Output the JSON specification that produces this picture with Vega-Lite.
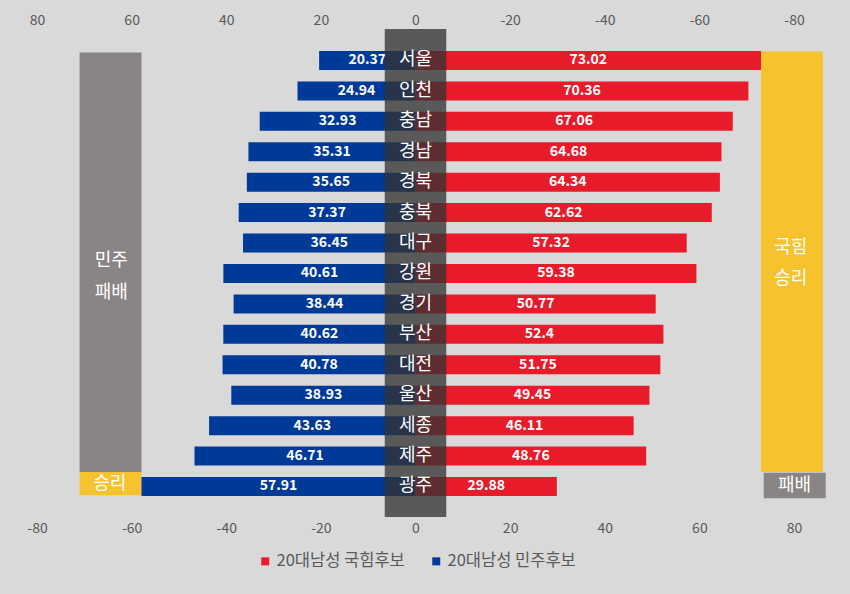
{
  "$schema": "https://vega.github.io/schema/vega-lite/v6.json",
  "width": 757,
  "height": 488,
  "autosize": {"type": "none"},
  "padding": {"left": 37, "top": 29, "right": 56, "bottom": 77},
  "background": "#d9d9d9",
  "config": {
    "view": {"stroke": null},
    "font": "Noto Sans CJK KR",
    "axis": {
      "domain": false,
      "ticks": false,
      "grid": false,
      "labelFlush": false,
      "labelFontSize": 14,
      "labelColor": "#595959",
      "labelFont": "Noto Sans CJK KR",
      "labelExpr": "datum.value < 0 ? '-' + abs(datum.value) : '' + datum.value",
      "title": null
    }
  },
  "datasets": {
    "votes": [
      {"지역": "서울", "순번": 1, "후보": "20대남성 국힘후보", "득표율": 73.02},
      {"지역": "인천", "순번": 2, "후보": "20대남성 국힘후보", "득표율": 70.36},
      {"지역": "충남", "순번": 3, "후보": "20대남성 국힘후보", "득표율": 67.06},
      {"지역": "경남", "순번": 4, "후보": "20대남성 국힘후보", "득표율": 64.68},
      {"지역": "경북", "순번": 5, "후보": "20대남성 국힘후보", "득표율": 64.34},
      {"지역": "충북", "순번": 6, "후보": "20대남성 국힘후보", "득표율": 62.62},
      {"지역": "대구", "순번": 7, "후보": "20대남성 국힘후보", "득표율": 57.32},
      {"지역": "강원", "순번": 8, "후보": "20대남성 국힘후보", "득표율": 59.38},
      {"지역": "경기", "순번": 9, "후보": "20대남성 국힘후보", "득표율": 50.77},
      {"지역": "부산", "순번": 10, "후보": "20대남성 국힘후보", "득표율": 52.4},
      {"지역": "대전", "순번": 11, "후보": "20대남성 국힘후보", "득표율": 51.75},
      {"지역": "울산", "순번": 12, "후보": "20대남성 국힘후보", "득표율": 49.45},
      {"지역": "세종", "순번": 13, "후보": "20대남성 국힘후보", "득표율": 46.11},
      {"지역": "제주", "순번": 14, "후보": "20대남성 국힘후보", "득표율": 48.76},
      {"지역": "광주", "순번": 15, "후보": "20대남성 국힘후보", "득표율": 29.88},
      {"지역": "서울", "순번": 1, "후보": "20대남성 민주후보", "득표율": 20.37},
      {"지역": "인천", "순번": 2, "후보": "20대남성 민주후보", "득표율": 24.94},
      {"지역": "충남", "순번": 3, "후보": "20대남성 민주후보", "득표율": 32.93},
      {"지역": "경남", "순번": 4, "후보": "20대남성 민주후보", "득표율": 35.31},
      {"지역": "경북", "순번": 5, "후보": "20대남성 민주후보", "득표율": 35.65},
      {"지역": "충북", "순번": 6, "후보": "20대남성 민주후보", "득표율": 37.37},
      {"지역": "대구", "순번": 7, "후보": "20대남성 민주후보", "득표율": 36.45},
      {"지역": "강원", "순번": 8, "후보": "20대남성 민주후보", "득표율": 40.61},
      {"지역": "경기", "순번": 9, "후보": "20대남성 민주후보", "득표율": 38.44},
      {"지역": "부산", "순번": 10, "후보": "20대남성 민주후보", "득표율": 40.62},
      {"지역": "대전", "순번": 11, "후보": "20대남성 민주후보", "득표율": 40.78},
      {"지역": "울산", "순번": 12, "후보": "20대남성 민주후보", "득표율": 38.93},
      {"지역": "세종", "순번": 13, "후보": "20대남성 민주후보", "득표율": 43.63},
      {"지역": "제주", "순번": 14, "후보": "20대남성 민주후보", "득표율": 46.71},
      {"지역": "광주", "순번": 15, "후보": "20대남성 민주후보", "득표율": 57.91}
    ],
    "boxes": [
      {"편": "민주", "결과": "패배", "x0": 57.91, "x1": 71, "y0": 0.74, "y1": 14.52},
      {"편": "민주", "결과": "승리", "x0": 57.91, "x1": 71, "y0": 14.52, "y1": 15.29},
      {"편": "국힘", "결과": "승리", "x0": 73.02, "x1": 86.1, "y0": 0.71, "y1": 14.52},
      {"편": "국힘", "결과": "패배", "x0": 73.6, "x1": 86.7, "y0": 14.55, "y1": 15.39}
    ],
    "notes": [
      {"편": "민주", "x": 64.3, "y": 7.6, "글": ["민주", "패배"]},
      {"편": "민주", "x": 64.6, "y": 14.92, "글": "승리"},
      {"편": "국힘", "x": 79.3, "y": 7.15, "글": ["국힘", "승리"]},
      {"편": "국힘", "x": 80.1, "y": 14.98, "글": "패배"}
    ]
  },
  "layer": [
    {
      "layer": [
        {
          "data": {"name": "boxes"},
          "transform": [{"filter": "datum['편'] === '국힘'"}],
          "mark": {"type": "rect"},
          "encoding": {
            "x": {
              "field": "x0",
              "type": "quantitative",
              "scale": {"domain": [-80, 80], "nice": false},
              "axis": {"orient": "bottom", "values": [-80, -60, -40, -20, 0, 20, 40, 60, 80], "labelPadding": 4}
            },
            "x2": {"field": "x1"},
            "y": {
              "field": "y0",
              "type": "quantitative",
              "scale": {"domain": [0.131, 15.838], "reverse": true, "nice": false, "zero": false},
              "axis": null
            },
            "y2": {"field": "y1"},
            "fill": {
              "field": "결과",
              "type": "nominal",
              "scale": {"domain": ["승리", "패배"], "range": ["#f6c22d", "#898584"]},
              "legend": null
            }
          }
        },
        {
          "data": {"name": "votes"},
          "transform": [{"filter": "datum['후보'] === '20대남성 국힘후보'"}],
          "mark": {"type": "bar", "orient": "horizontal", "size": 19},
          "encoding": {
            "x": {"field": "득표율", "type": "quantitative"},
            "y": {"field": "순번", "type": "quantitative"},
            "color": {
              "field": "후보",
              "type": "nominal",
              "scale": {"domain": ["20대남성 국힘후보", "20대남성 민주후보"], "range": ["#e81b2b", "#003a99"]},
              "legend": {
                "orient": "none",
                "legendX": 220,
                "legendY": 524,
                "direction": "horizontal",
                "title": null,
                "symbolType": "square",
                "symbolSize": 64,
                "symbolStrokeWidth": 0,
                "labelOffset": 3,
                "labelFontSize": 16.5,
                "labelColor": "#595959",
                "columnPadding": 23
              }
            }
          }
        },
        {
          "data": {"name": "votes"},
          "transform": [{"filter": "datum['후보'] === '20대남성 국힘후보'"}],
          "mark": {"type": "text", "color": "white", "fontWeight": "bold", "fontSize": 14, "baseline": "middle", "align": "center"},
          "encoding": {
            "x": {"field": "득표율", "type": "quantitative", "stack": "zero", "bandPosition": 0.5},
            "y": {"field": "순번", "type": "quantitative"},
            "text": {"field": "득표율", "type": "quantitative", "format": ""}
          }
        },
        {
          "data": {"name": "notes"},
          "transform": [{"filter": "datum['편'] === '국힘'"}],
          "mark": {"type": "text", "color": "white", "fontSize": 18, "lineHeight": 31, "baseline": "middle", "align": "center"},
          "encoding": {
            "x": {"field": "x", "type": "quantitative"},
            "y": {"field": "y", "type": "quantitative"},
            "text": {"field": "글"}
          }
        }
      ]
    },
    {
      "layer": [
        {
          "data": {"name": "boxes"},
          "transform": [{"filter": "datum['편'] === '민주'"}],
          "mark": {"type": "rect"},
          "encoding": {
            "x": {
              "field": "x0",
              "type": "quantitative",
              "scale": {"domain": [-80, 80], "nice": false, "reverse": true},
              "axis": {"orient": "top", "values": [-80, -60, -40, -20, 0, 20, 40, 60, 80], "labelPadding": 2}
            },
            "x2": {"field": "x1"},
            "y": {"field": "y0", "type": "quantitative"},
            "y2": {"field": "y1"},
            "fill": {"field": "결과", "type": "nominal"}
          }
        },
        {
          "data": {"name": "votes"},
          "transform": [{"filter": "datum['후보'] === '20대남성 민주후보'"}],
          "mark": {"type": "bar", "orient": "horizontal", "size": 19},
          "encoding": {
            "x": {"field": "득표율", "type": "quantitative"},
            "y": {"field": "순번", "type": "quantitative"},
            "color": {"field": "후보", "type": "nominal"}
          }
        },
        {
          "data": {"name": "votes"},
          "transform": [{"filter": "datum['후보'] === '20대남성 민주후보'"}],
          "mark": {"type": "text", "color": "white", "fontWeight": "bold", "fontSize": 14, "baseline": "middle", "align": "center"},
          "encoding": {
            "x": {"field": "득표율", "type": "quantitative", "stack": "zero", "bandPosition": 0.5},
            "y": {"field": "순번", "type": "quantitative"},
            "text": {"field": "득표율", "type": "quantitative", "format": ""}
          }
        },
        {
          "data": {"name": "notes"},
          "transform": [{"filter": "datum['편'] === '민주'"}],
          "mark": {"type": "text", "color": "white", "fontSize": 18, "lineHeight": 32, "baseline": "middle", "align": "center"},
          "encoding": {
            "x": {"field": "x", "type": "quantitative"},
            "y": {"field": "y", "type": "quantitative"},
            "text": {"field": "글"}
          }
        }
      ]
    },
    {
      "layer": [
        {
          "data": {"values": [{}]},
          "mark": {"type": "rect", "color": "#333333", "opacity": 0.77},
          "encoding": {
            "x": {"datum": -6.5, "type": "quantitative", "scale": {"domain": [-80, 80], "nice": false}, "axis": null},
            "x2": {"datum": 6.5}
          }
        },
        {
          "data": {"name": "votes"},
          "transform": [{"filter": "datum['후보'] === '20대남성 국힘후보'"}],
          "mark": {"type": "text", "color": "white", "fontSize": 18, "baseline": "middle", "align": "center"},
          "encoding": {
            "x": {"datum": 0, "type": "quantitative"},
            "y": {"field": "순번", "type": "quantitative"},
            "text": {"field": "지역", "type": "nominal"}
          }
        }
      ]
    }
  ],
  "resolve": {"scale": {"x": "independent"}, "axis": {"x": "independent"}}
}
